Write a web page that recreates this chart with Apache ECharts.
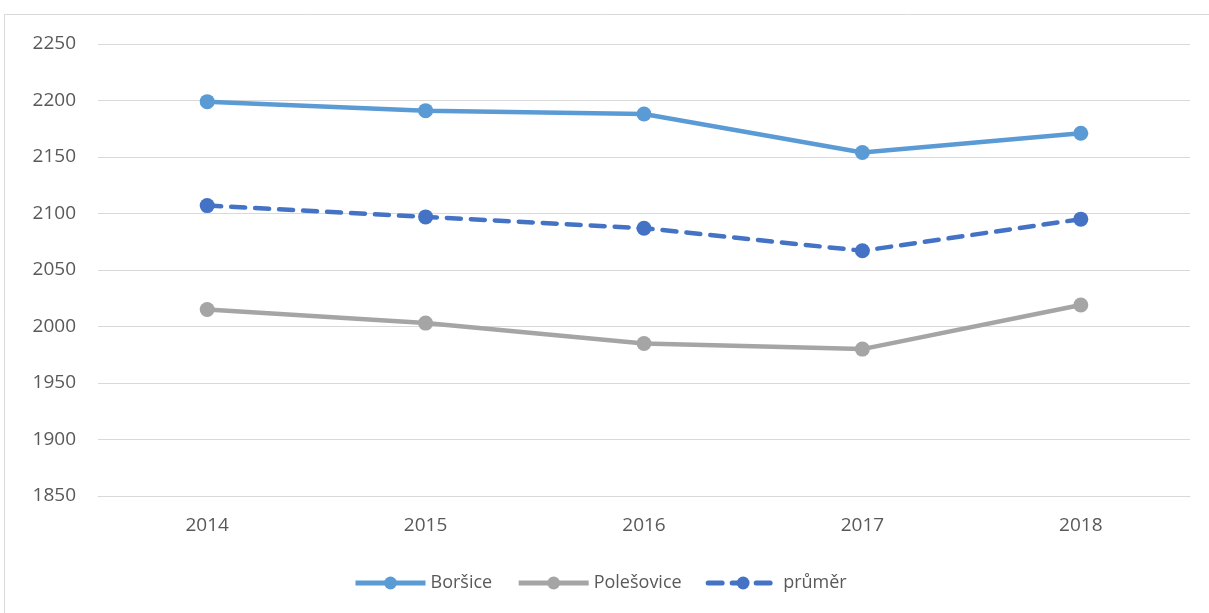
<!DOCTYPE html>
<html>
<head>
    <meta charset="utf-8" />
    <title>chart</title>
    <script src="https://cdn.jsdelivr.net/npm/echarts@6/dist/echarts.min.js"></script>
    <style>
        html, body { margin: 0; padding: 0; background: #fff; }
        #chart { width: 1209px; height: 613px; }
    </style>
</head>
<body>
    <div id="chart"></div>
    <script type="text/javascript">
        var years = ['2014', '2015', '2016', '2017', '2018'];
        var borsice = [2199, 2191, 2188, 2154, 2171];
        var polesovice = [2015, 2003, 1985, 1980, 2019];
        var prumer = [2107, 2097, 2087, 2067, 2095];

        var myChart = echarts.init(document.getElementById('chart'));

        var textColor = '#595959';
        var font = 'Open Sans';

        myChart.setOption({
            animation: false,
            textStyle: { fontFamily: font },
            graphic: [{
                type: 'rect',
                shape: { x: 4.5, y: 14.5, width: 1300, height: 700 },
                style: { fill: 'none', stroke: '#d9d9d9', lineWidth: 1 },
                silent: true
            }],
            grid: { left: 98, right: 19, top: 44, bottom: 117 },
            legend: {
                bottom: 16,
                left: 348,
                itemWidth: 70,
                itemHeight: 16,
                itemGap: 24,
                lineStyle: { width: 5 },
                textStyle: { color: textColor, fontSize: 18, fontFamily: font },
                data: ['Boršice', 'Polešovice', 'průměr']
            },
            xAxis: {
                type: 'category',
                data: years,
                boundaryGap: true,
                axisLine: { lineStyle: { color: '#d9d9d9', width: 1 } },
                axisTick: { show: false },
                axisLabel: { color: textColor, fontSize: 19, margin: 20 }
            },
            yAxis: {
                type: 'value',
                min: 1850,
                max: 2250,
                interval: 50,
                axisLine: { show: false },
                axisTick: { show: false },
                axisLabel: {
                    color: textColor, fontSize: 19, margin: 22,
                    formatter: function (v) { return String(v); }
                },
                splitLine: { lineStyle: { color: '#d9d9d9', width: 1 } }
            },
            series: [{
                name: 'Boršice',
                type: 'line',
                data: borsice,
                symbol: 'circle',
                symbolSize: 15,
                lineStyle: { color: '#5B9BD5', width: 4.5 },
                itemStyle: { color: '#5B9BD5' }
            }, {
                name: 'Polešovice',
                type: 'line',
                data: polesovice,
                symbol: 'circle',
                symbolSize: 15,
                lineStyle: { color: '#A5A5A5', width: 4.5 },
                itemStyle: { color: '#A5A5A5' }
            }, {
                name: 'průměr',
                type: 'line',
                data: prumer,
                symbol: 'circle',
                symbolSize: 15,
                lineStyle: { color: '#4472C4', width: 4.5, type: [14, 10], cap: 'round' },
                itemStyle: { color: '#4472C4' }
            }]
        });
    </script>
</body>
</html>
